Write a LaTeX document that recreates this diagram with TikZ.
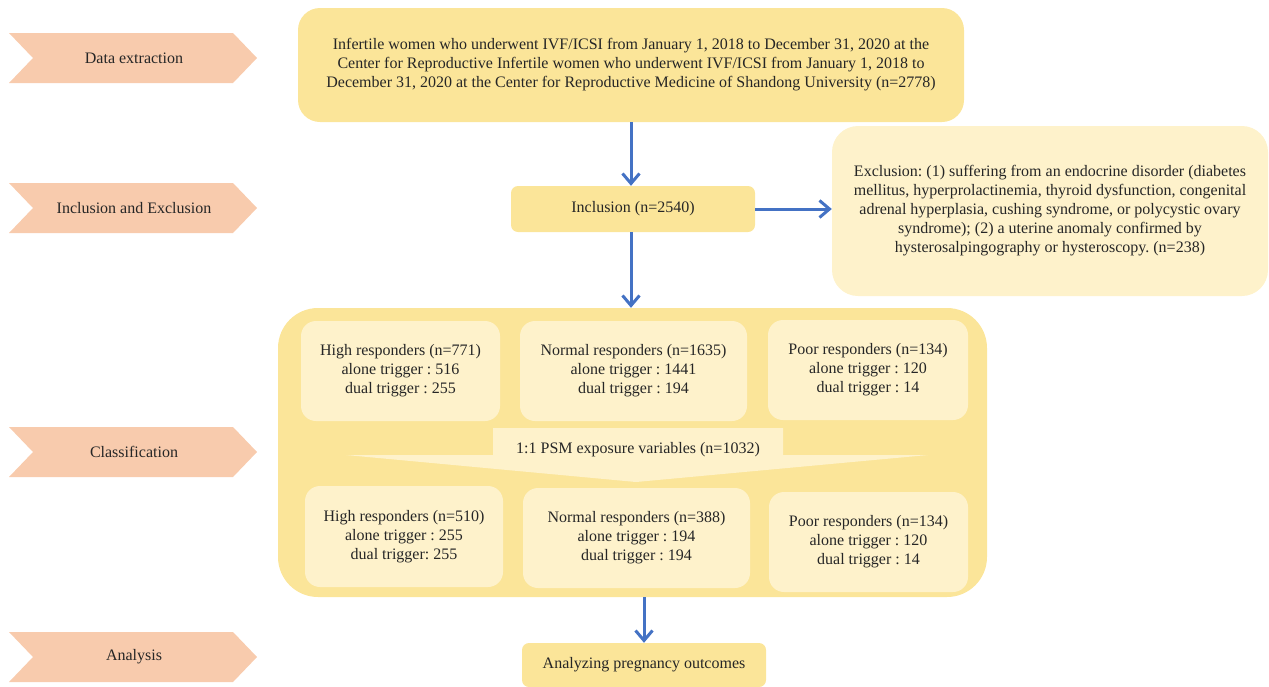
\documentclass[tikz,border=0pt]{standalone}
\usepackage{fontspec}
\setmainfont{Liberation Serif}
\usetikzlibrary{arrows.meta}
\definecolor{peach}{HTML}{F8CBAD}
\definecolor{gold}{HTML}{FBE599}
\definecolor{cream}{HTML}{FEF2CB}
\definecolor{flowblue}{HTML}{4472C4}
\frenchspacing
\tikzset{
  every node/.style={font=\fontsize{16}{19}\selectfont, text=black!85, align=center},
  goldbox/.style={fill=gold, rounded corners=#1, inner sep=0pt},
  creambox/.style={fill=cream, rounded corners=#1, inner sep=0pt},
  flow/.style={draw=flowblue, line width=3pt, -{Straight Barb[length=10pt,width=17pt]}}
}
\begin{document}
\begin{tikzpicture}[x=1pt,y=-1pt]

    \useasboundingbox (0,0) rectangle (1269,686);
    \def \notch {24}
    % draw the phase chevrons
    \foreach \yc/\txt [count=\i] in {58/Data extraction, 208/Inclusion and Exclusion, 452/Classification, 657/Analysis}
    {
      \fill[peach] (9,\yc-25) -- (233,\yc-25) -- (233+\notch,\yc) -- (233,\yc+25)
        -- (9,\yc+25) -- (9+\notch,\yc) -- cycle;
      \node (phase\i) at (134,\yc) {\txt};
    }

    % main flow boxes
    \node[goldbox=22, minimum width=666, minimum height=114] (women) at (631,65)
      {Infertile women who underwent IVF/ICSI from January 1, 2018 to December 31, 2020 at the\\
       Center for Reproductive Infertile women who underwent IVF/ICSI from January 1, 2018 to\\
       December 31, 2020 at the Center for Reproductive Medicine of Shandong University (n=2778)};
    \node[goldbox=7, minimum width=244, minimum height=46] (incl) at (633,209) {Inclusion (n=2540)};
    \node[creambox=26, minimum width=436, minimum height=170] (excl) at (1050,211)
      {Exclusion: (1) suffering from an endocrine disorder (diabetes\\
       mellitus, hyperprolactinemia, thyroid dysfunction, congenital\\
       adrenal hyperplasia, cushing syndrome, or polycystic ovary\\
       syndrome); (2) a uterine anomaly confirmed by\\
       hysterosalpingography or hysteroscopy. (n=238)};
    \node[goldbox=40, minimum width=709, minimum height=289] (groups) at (632.5,452.5) {};
    \node[goldbox=7, minimum width=244, minimum height=44] (outcome) at (644,665) {Analyzing pregnancy outcomes};

    % responder groups before matching
    \node[creambox=15, minimum width=199, minimum height=100] (high) at (400.5,371)
      {High responders (n=771)\\alone trigger : 516\\dual trigger : 255};
    \node[creambox=15, minimum width=227, minimum height=100] (normal) at (633.5,371)
      {Normal responders (n=1635)\\alone trigger : 1441\\dual trigger : 194};
    \node[creambox=15, minimum width=200, minimum height=100] (poor) at (868,370)
      {Poor responders (n=134)\\alone trigger : 120\\dual trigger : 14};

    % PSM arrow
    \fill[cream] (493,428) -- (783,428) -- (783,455) -- (928,455) -- (636,482)
      -- (346,455) -- (493,455) -- cycle;
    \node (psm) at (638,450) {1:1 PSM exposure variables (n=1032)};

    % responder groups after matching
    \node[creambox=15, minimum width=198, minimum height=101] (highm) at (404,536.5)
      {High responders (n=510)\\alone trigger : 255\\dual trigger: 255};
    \node[creambox=15, minimum width=227, minimum height=100] (normalm) at (636.5,538)
      {Normal responders (n=388)\\alone trigger : 194\\dual trigger : 194};
    \node[creambox=15, minimum width=199, minimum height=100] (poorm) at (868.5,542)
      {Poor responders (n=134)\\alone trigger : 120\\dual trigger : 14};

    % draw the connectors
    \draw[flow] (women.south) -- (women.south |- incl.north);
    \draw[flow] (incl.east) -- (incl.east -| excl.west);
    \draw[flow] (incl.south -| women.south) -- (women.south |- groups.north);
    \draw[flow] (groups.south -| outcome.north) -- (outcome.north);
  \end{tikzpicture}
\end{document}
